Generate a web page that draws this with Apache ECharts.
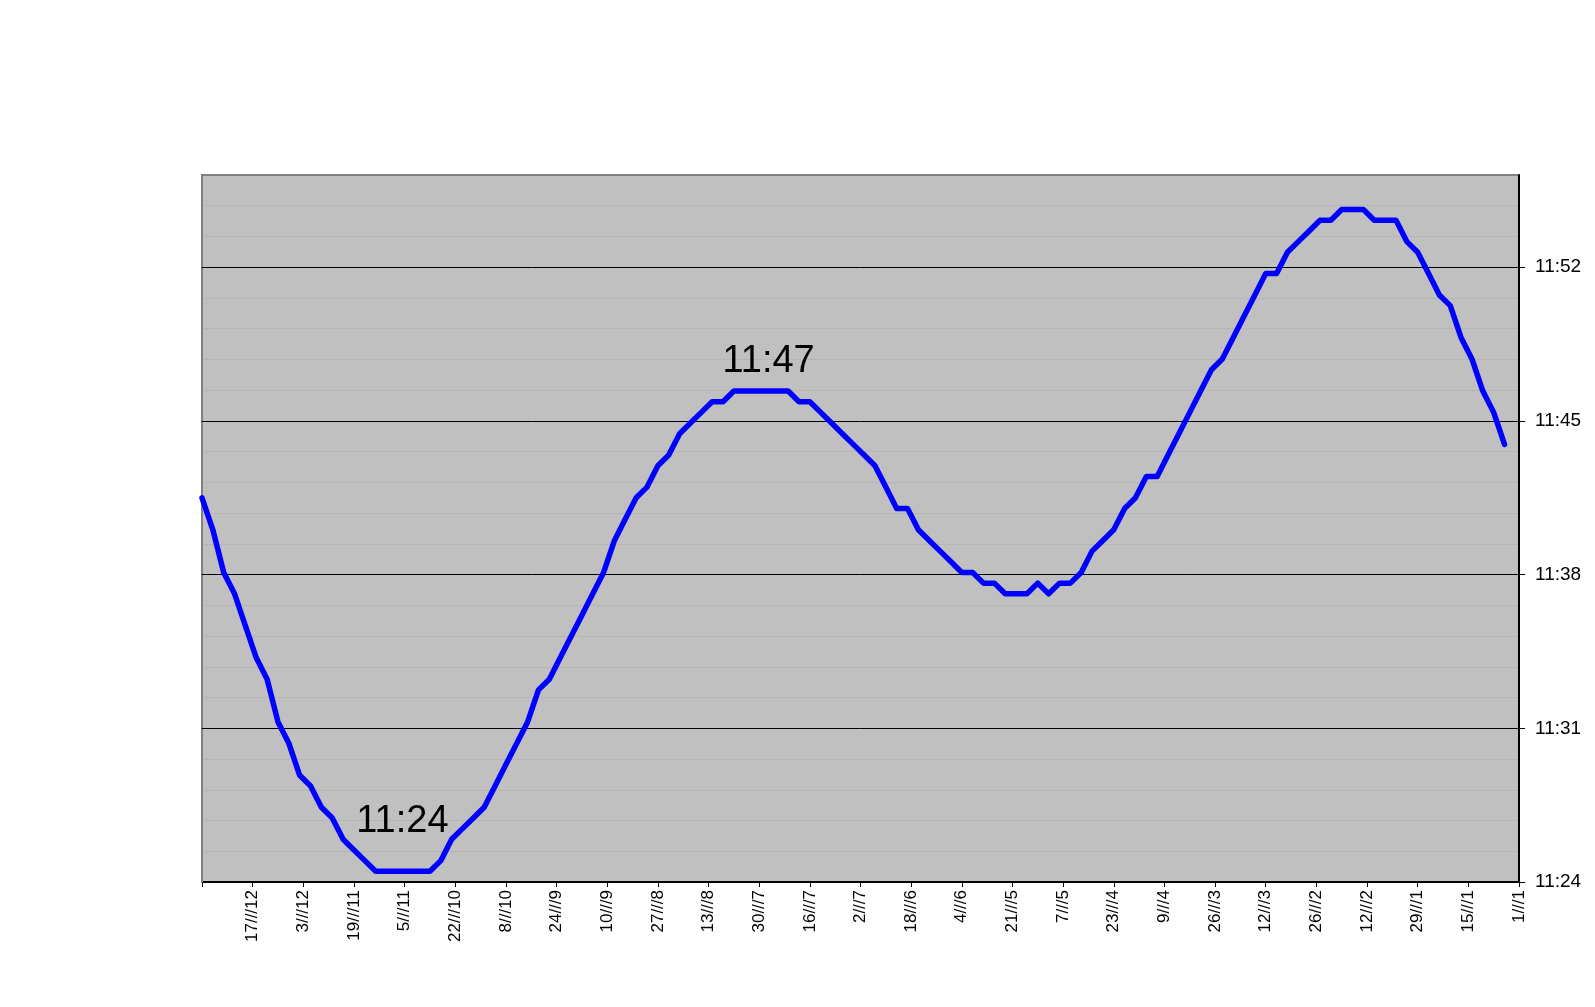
<!DOCTYPE html>
<html>
<head>
<meta charset="utf-8">
<script src="https://cdn.jsdelivr.net/npm/echarts@6/dist/echarts.min.js"></script>
<style>
html,body{margin:0;padding:0;background:#fff;}
#chart{width:1595px;height:1007px;}
</style>
</head>
<body>
<div id="chart"></div>
<script>
// X tick labels, one every 14 days, left (31/12) to right (1/1)
const xTickLabels = ['', '17///12', '3///12', '19///11', '5///11', '22///10', '8///10', '24///9', '10///9',
  '27///8', '13///8', '30///7', '16///7', '2///7', '18///6', '4///6', '21///5', '7///5', '23///4',
  '9///4', '26///3', '12///3', '26///2', '12///2', '29///1', '15///1', '1///1'];
// sample spacing of the readings, in days (going back in time from 31/12)
const sampleStepDays = 3;
// solar noon, minutes of the day (684 = 11:24)
const noonMinutes = [
  702.0, 700.5, 698.5, 697.5, 696.0, 694.5, 693.5, 691.5, 690.5, 689.0,
  688.5, 687.5, 687.0, 686.0, 685.5, 685.0, 684.5, 684.5, 684.5, 684.5,
  684.5, 684.5, 685.0, 686.0, 686.5, 687.0, 687.5, 688.5, 689.5, 690.5,
  691.5, 693.0, 693.5, 694.5, 695.5, 696.5, 697.5, 698.5, 700.0, 701.0,
  702.0, 702.5, 703.5, 704.0, 705.0, 705.5, 706.0, 706.5, 706.5, 707.0,
  707.0, 707.0, 707.0, 707.0, 707.0, 706.5, 706.5, 706.0, 705.5, 705.0,
  704.5, 704.0, 703.5, 702.5, 701.5, 701.5, 700.5, 700.0, 699.5, 699.0,
  698.5, 698.5, 698.0, 698.0, 697.5, 697.5, 697.5, 698.0, 697.5, 698.0,
  698.0, 698.5, 699.5, 700.0, 700.5, 701.5, 702.0, 703.0, 703.0, 704.0,
  705.0, 706.0, 707.0, 708.0, 708.5, 709.5, 710.5, 711.5, 712.5, 712.5,
  713.5, 714.0, 714.5, 715.0, 715.0, 715.5, 715.5, 715.5, 715.0, 715.0,
  715.0, 714.0, 713.5, 712.5, 711.5, 711.0, 709.5, 708.5, 707.0, 706.0,
  704.5
];
// y axis: 11:24 to 0.498 day, major every 0.005 day (7.2 min), minor every 0.001 day
const yMin = 684, yMax = 717.12, yMajor = 7.2, yMinor = 1.44;
const yTickValues = [684, 691.2, 698.4, 705.6, 712.8];
const annotations = [
  {text: '11:24', dayX: 55.4, minY: 686.83},
  {text: '11:47', dayX: 156.6, minY: 708.4}
];

const seriesData = noonMinutes.map((v, i) => [i * sampleStepDays, v]);

function fmtTime(v) {
  const h = Math.floor(v / 60 + 1e-9);
  const m = Math.floor(v - h * 60 + 1e-6);
  return h + ':' + (m < 10 ? '0' + m : m);
}

const chart = echarts.init(document.getElementById('chart'), null, {renderer: 'canvas'});
const font = 'Liberation Sans, Arial, sans-serif';
const option = {
  animation: false,
  backgroundColor: '#ffffff',
  grid: {left: 202, right: 76, top: 175, bottom: 125, show: true, backgroundColor: '#c0c0c0', borderWidth: 0},
  xAxis: [{
    type: 'value', min: 0, max: 364, interval: 14, position: 'bottom',
    axisLine: {show: true, onZero: false, lineStyle: {color: '#000', width: 2}},
    axisTick: {show: true, length: 5, lineStyle: {color: '#000', width: 1}},
    splitLine: {show: false},
    axisLabel: {
      rotate: 90, margin: 8, color: '#000', fontFamily: font, fontSize: 17,
      formatter: v => xTickLabels[Math.round(v / 14)] || ''
    }
  }, {
    type: 'value', min: 0, max: 364, position: 'top',
    axisLine: {show: true, onZero: false, lineStyle: {color: '#808080', width: 2}},
    axisTick: {show: false}, axisLabel: {show: false}, splitLine: {show: false}
  }],
  yAxis: [{
    type: 'value', min: yMin, max: yMax, interval: yMajor, position: 'right', z: 3,
    axisLine: {show: true, onZero: false, lineStyle: {color: '#000', width: 2}},
    axisTick: {show: true, length: 6, customValues: yTickValues, lineStyle: {color: '#000', width: 1}},
    splitLine: {show: false},
    axisLabel: {
      margin: 16, color: '#000', fontFamily: font, fontSize: 19,
      customValues: yTickValues,
      formatter: v => (v > 716 ? '' : fmtTime(v))
    }
  }, {
    type: 'value', min: yMin, max: yMax, interval: yMinor, position: 'left', z: 1,
    axisLine: {show: true, onZero: false, lineStyle: {color: '#808080', width: 2}},
    axisTick: {show: false}, axisLabel: {show: false},
    splitLine: {show: true, showMinLine: false, showMaxLine: false, lineStyle: {color: '#b5b5b5', width: 1}}
  }],
  series: [{
    // major gridlines
    type: 'line', xAxisIndex: 0, yAxisIndex: 0, z: 2, data: [], silent: true,
    markLine: {
      silent: true, symbol: ['none', 'none'], label: {show: false}, animation: false,
      lineStyle: {color: '#000', width: 1, type: 'solid'},
      emphasis: {disabled: true},
      data: yTickValues.slice(1).map(v => ({yAxis: v}))
    }
  }, {
    type: 'line', xAxisIndex: 0, yAxisIndex: 0, z: 5,
    data: seriesData, symbol: 'none', smooth: false,
    lineStyle: {color: '#0000ff', width: 5.5, join: 'round', cap: 'round'},
    markPoint: {
      symbol: 'circle', symbolSize: 0, silent: true,
      label: {show: true, position: 'inside', color: '#000', fontFamily: font, fontSize: 38,
              formatter: p => p.name},
      data: annotations.map(a => ({name: a.text, coord: [a.dayX, a.minY]}))
    }
  }]
};
chart.setOption(option);
</script>
</body>
</html>
